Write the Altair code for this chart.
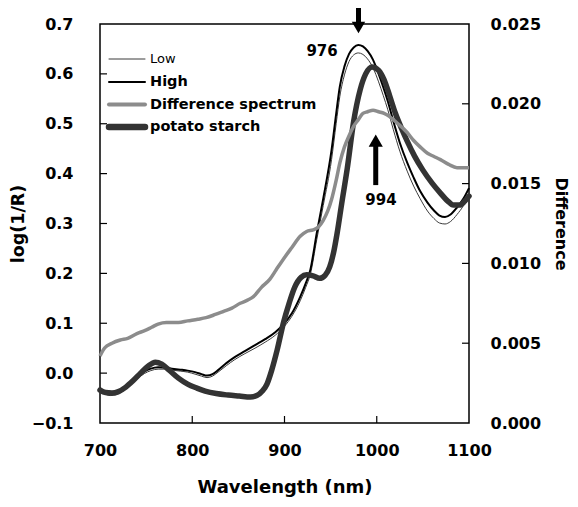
import altair as alt
import pandas as pd

# ---- data ----
wl_lh = [700, 705, 711, 718, 725, 733, 740, 748, 755, 763, 770, 778, 787, 795, 803, 810, 816, 822, 828, 837,
         846, 857, 868, 879, 890, 900, 908, 917, 923, 928, 935, 942, 951, 956, 960, 965, 970, 975, 980, 985,
         990, 996, 1002, 1007, 1012, 1018, 1025, 1033, 1040, 1047, 1055, 1062, 1068, 1074, 1080, 1087, 1094, 1100]
high = [-0.030, -0.038, -0.042, -0.040, -0.033, -0.020, -0.008, 0.003, 0.009, 0.012, 0.011, 0.009, 0.007, 0.005,
        0.002, -0.002, -0.005, -0.002, 0.006, 0.020, 0.032, 0.044, 0.056, 0.068, 0.082, 0.100, 0.120, 0.153,
        0.180, 0.207, 0.281, 0.350, 0.447, 0.520, 0.575, 0.615, 0.640, 0.653, 0.658, 0.655, 0.646, 0.628, 0.600,
        0.574, 0.545, 0.505, 0.462, 0.422, 0.392, 0.365, 0.342, 0.326, 0.316, 0.313, 0.318, 0.332, 0.350, 0.371]
low = [-0.033, -0.041, -0.045, -0.043, -0.036, -0.024, -0.012, -0.001, 0.005, 0.008, 0.008, 0.006, 0.004, 0.002,
       -0.002, -0.006, -0.009, -0.006, 0.002, 0.015, 0.027, 0.039, 0.050, 0.062, 0.076, 0.094, 0.114, 0.145,
       0.172, 0.198, 0.268, 0.336, 0.428, 0.500, 0.555, 0.598, 0.625, 0.638, 0.642, 0.639, 0.630, 0.612, 0.584,
       0.557, 0.528, 0.488, 0.445, 0.405, 0.375, 0.350, 0.325, 0.310, 0.301, 0.299, 0.304, 0.318, 0.336, 0.358]

wl_pot = [700, 706, 713, 720, 728, 736, 744, 752, 760, 767, 775, 785, 795, 805, 814, 826, 839, 851, 863, 870,
          876, 881, 886, 892, 899, 905, 911, 918, 924, 931, 938, 944, 949, 953, 957, 962, 968, 975, 982, 988,
          995, 1002, 1008, 1014, 1020, 1027, 1033, 1041, 1050, 1060, 1069, 1077, 1083, 1090, 1095, 1100]
potato = [-0.034, -0.039, -0.040, -0.037, -0.028, -0.015, 0.000, 0.014, 0.022, 0.018, 0.006, -0.010, -0.022,
          -0.030, -0.036, -0.041, -0.044, -0.046, -0.048, -0.045, -0.036, -0.022, 0.005, 0.046, 0.102, 0.140,
          0.172, 0.192, 0.197, 0.195, 0.190, 0.196, 0.213, 0.240, 0.280, 0.340, 0.410, 0.505, 0.568, 0.600,
          0.614, 0.607, 0.588, 0.556, 0.522, 0.490, 0.465, 0.435, 0.407, 0.381, 0.361, 0.345, 0.337, 0.337,
          0.344, 0.355]

wl_diff = [700, 705, 713, 722, 730, 740, 749, 756, 763, 772, 785, 795, 806, 815, 825, 834, 843, 852, 860, 866,
           875, 884, 891, 898, 908, 917, 924, 931, 937, 942, 947, 951, 956, 960, 965, 970, 975, 980, 985, 990,
           996, 1002, 1008, 1014, 1022, 1033, 1040, 1047, 1055, 1062, 1069, 1078, 1087, 1094, 1100]
difference = [0.0042, 0.0047, 0.0050, 0.0052, 0.0053, 0.0056, 0.0058, 0.0060, 0.0062, 0.0063, 0.0063, 0.0064,
              0.0065, 0.0066, 0.0068, 0.0070, 0.0072, 0.0075, 0.0077, 0.0079, 0.0085, 0.0090, 0.0096, 0.0102,
              0.0110, 0.0117, 0.0120, 0.0121, 0.0123, 0.0127, 0.0133, 0.0140, 0.0152, 0.0163, 0.0173, 0.0180,
              0.0186, 0.0190, 0.0194, 0.0195, 0.0196, 0.0195, 0.0194, 0.0192, 0.0188, 0.0182, 0.0177, 0.0173,
              0.0169, 0.0167, 0.0165, 0.0162, 0.0160, 0.0160, 0.0160]

x_ticks = [700, 800, 900, 1000, 1100]
left_ticks = [-0.1, 0.0, 0.1, 0.2, 0.3, 0.4, 0.5, 0.6, 0.7]
right_ticks = [0.000, 0.005, 0.010, 0.015, 0.020, 0.025]

legend_names = ["Low", "High", "Difference spectrum", "potato starch"]

# annotation arrows (wavelength, tail, tip of arrow on log(1/R) scale) and labels
arrow_x = [980.2, 998.9]
arrow_tail = [0.742, 0.377]
arrow_head_y = [0.693, 0.466]
ann_text = ["976", "994"]
ann_x = [940.7, 1004.6]
ann_y = [0.646, 0.347]

FONT = "DejaVu Sans"
W, H = 369, 399

xscale = alt.Scale(domain=[700, 1100], nice=False, zero=False)
lscale = alt.Scale(domain=[-0.1, 0.7], nice=False, zero=False)
rscale = alt.Scale(domain=[0.0, 0.025], nice=False, zero=False)

x_axis = alt.Axis(values=x_ticks, format="d", title="Wavelength (nm)", titleFontSize=18,
                  labelPadding=19, labelFlush=False, titlePadding=20)
l_axis = alt.Axis(values=left_ticks, format=".1f", title="log(1/R)", titleFontSize=17.5,
                  labelPadding=27, titlePadding=4)
r_axis = alt.Axis(values=right_ticks, format=".3f", title="Difference", titleFontSize=16,
                  orient="right", labelPadding=21, titlePadding=12)

df_lh = pd.DataFrame({"wl": wl_lh, "high": high, "low": low})
df_pot = pd.DataFrame({"wl": wl_pot, "v": potato})
df_diff = pd.DataFrame({"wl": wl_diff, "d": difference})


def X(field):
    return alt.X(field, type="quantitative", scale=xscale, axis=x_axis)


def YL(field):
    return alt.Y(field, type="quantitative", scale=lscale, axis=l_axis)


def YR(field):
    return alt.Y(field, type="quantitative", scale=rscale, axis=r_axis)


low_line = alt.Chart(df_lh).mark_line(color="#3a3a3a", strokeWidth=1, interpolate="monotone").encode(
    x=X("wl"), y=YL("low"))
high_line = alt.Chart(df_lh).mark_line(color="black", strokeWidth=2, interpolate="monotone").encode(
    x=X("wl"), y=YL("high"))
pot_line = alt.Chart(df_pot).mark_line(color="#333333", strokeWidth=5.5, interpolate="monotone",
                                        strokeCap="round", strokeJoin="round").encode(
    x=X("wl"), y=YL("v"))

# inward ticks
lt = pd.DataFrame({"t": left_ticks[1:-1]})
left_tick_marks = alt.Chart(lt).mark_rule(color="black", strokeWidth=1.2).encode(
    y=YL("t"), x=alt.value(0), x2=alt.value(7))
bt = pd.DataFrame({"t": x_ticks[1:-1]})
bottom_tick_marks = alt.Chart(bt).mark_rule(color="black", strokeWidth=1.2).encode(
    x=X("t"), y=alt.value(H - 7), y2=alt.value(H))

# arrows
arr = pd.DataFrame({"x": arrow_x, "tail": arrow_tail, "head": arrow_head_y})
shafts = alt.Chart(arr).mark_rule(color="black", strokeWidth=5).encode(
    x=X("x"), y=YL("tail"), y2="head:Q")
head_down = alt.Chart(arr.iloc[[0]]).mark_point(shape="triangle-down", filled=True, size=180,
                                                color="black", opacity=1).encode(x=X("x"), y=YL("head"))
head_up = alt.Chart(arr.iloc[[1]]).mark_point(shape="triangle-up", filled=True, size=200,
                                              color="black", opacity=1).encode(x=X("x"), y=YL("head"))
ann = pd.DataFrame({"x": ann_x, "y": ann_y, "t": ann_text})
ann_labels = alt.Chart(ann).mark_text(font=FONT, fontSize=15, fontWeight="bold", color="black").encode(
    x=X("x"), y=YL("y"), text="t:N")

# manual legend (inside plot, top-left)
one = pd.DataFrame({"a": [0]})
leg_y = [35, 58, 80.5, 103]
leg_styles = [("#3a3a3a", 1), ("black", 2), ("#8c8c8c", 4), ("#333333", 6.5)]
leg_layers = []
for name, yy, (col, sw) in zip(legend_names, leg_y, leg_styles):
    leg_layers.append(alt.Chart(one).mark_rule(color=col, strokeWidth=sw, strokeCap="round").encode(
        x=alt.value(9), x2=alt.value(45), y=alt.value(yy)))
    if name == "Low":
        txt = alt.Chart(one).mark_text(text=name, font=FONT, fontSize=13, fontWeight="normal",
                                       align="left", baseline="middle", color="black")
    else:
        txt = alt.Chart(one).mark_text(text=name, font=FONT, fontSize=14.5, fontWeight="bold",
                                       align="left", baseline="middle", color="black")
    leg_layers.append(txt.encode(x=alt.value(50), y=alt.value(yy)))

left_group = alt.layer(low_line, high_line, pot_line, left_tick_marks, bottom_tick_marks,
                       shafts, head_down, head_up, ann_labels, *leg_layers)

diff_line = alt.Chart(df_diff).mark_line(color="#8c8c8c", strokeWidth=3.5, interpolate="monotone").encode(
    x=X("wl"), y=YR("d"))
rt = pd.DataFrame({"t": right_ticks[1:-1]})
right_tick_marks = alt.Chart(rt).mark_rule(color="black", strokeWidth=1.2).encode(
    y=YR("t"), x=alt.value(W - 7), x2=alt.value(W))
right_group = alt.layer(diff_line, right_tick_marks)

chart = alt.layer(left_group, right_group).resolve_scale(y="independent").properties(
    width=W, height=H,
    autosize=alt.AutoSizeParams(type="none"),
    padding={"left": 92, "top": 16, "right": 101, "bottom": 80},
).configure_view(stroke="black", strokeWidth=1.5).configure_axis(
    grid=False, domain=False, ticks=False,
    labelFont=FONT, labelFontSize=16, labelFontWeight="bold", labelColor="black",
    titleFont=FONT, titleFontWeight="bold", titleColor="black",
)

chart.save("out.html", embed_options={"renderer": "svg", "actions": False})
